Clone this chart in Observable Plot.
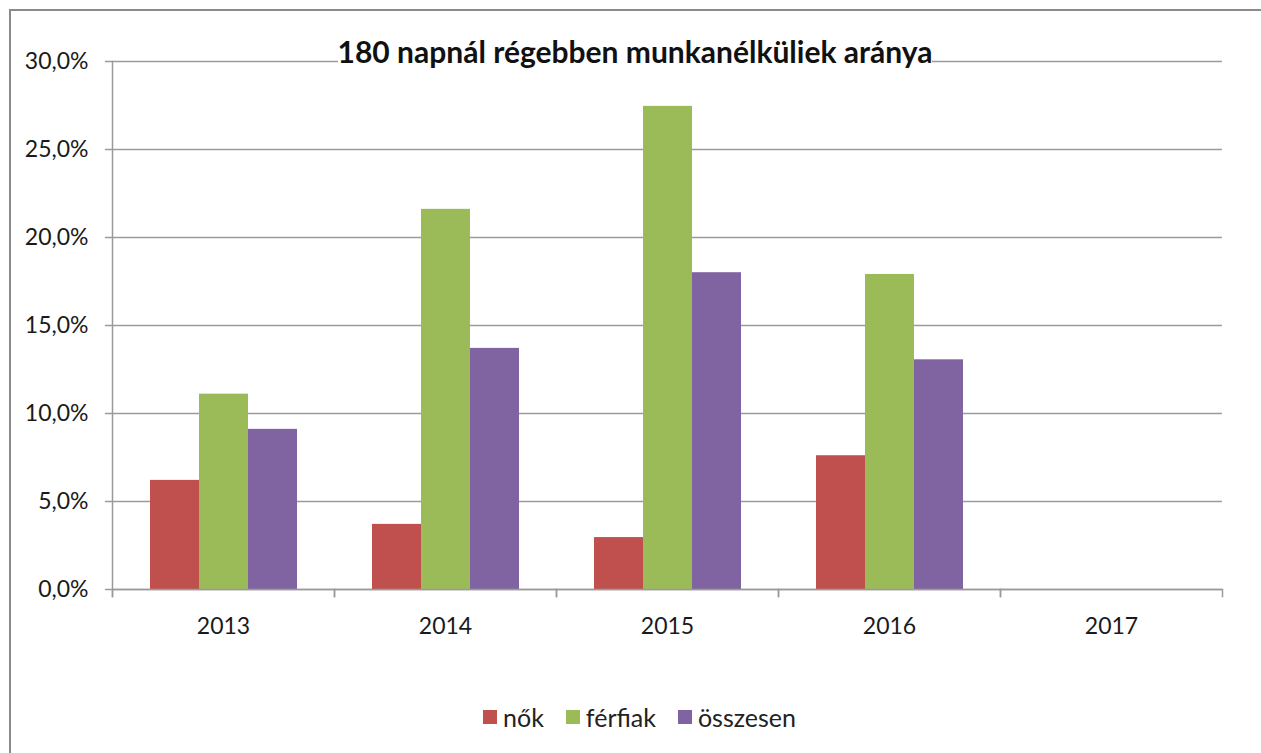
<!DOCTYPE html>
<html>
<head>
<meta charset="utf-8">
<script src="https://cdn.jsdelivr.net/npm/d3@7"></script>
<script src="https://cdn.jsdelivr.net/npm/@observablehq/plot@0.6"></script>
<style>
  html, body { margin: 0; padding: 0; background: #fff; overflow: hidden; width: 1261px; height: 753px; }
  #wrap { position: relative; width: 1261px; height: 753px; font-family: Lato, "Open Sans", sans-serif; }
  #border { position: absolute; left: 9px; top: 9px; width: 1300px; height: 800px; border: 2px solid #8a8a8a; box-sizing: border-box; }
  #chart { position: absolute; left: 0; top: 0; }
  #title { position: absolute; left: 0; width: 1270px; top: 33px; text-align: center; font-weight: bold; font-size: 30px; color: #111; pointer-events: none; }
  #title span { background: #fff; padding: 0; }
  #legend { position: absolute; left: 0; width: 1279px; top: 702px; display: flex; justify-content: center; gap: 22px; font-size: 25px; color: #222; }
  #legend .item { display: flex; align-items: center; gap: 6px; }
  #legend .sw { width: 14px; height: 14px; display: inline-block; }
</style>
</head>
<body>
<div id="wrap">
  <div id="border"></div>
  <div id="chart"></div>
  <div id="title"><span></span></div>
  <div id="legend"></div>
</div>
<script>
const title = "180 napnál régebben munkanélküliek aránya";
const years = ["2013", "2014", "2015", "2016", "2017"];
const series = ["nők", "férfiak", "összesen"];
const nok = [6.2, 3.7, 2.95, 7.6, null];
const ferfiak = [11.1, 21.6, 27.45, 17.9, null];
const osszesen = [9.1, 13.7, 18.0, 13.05, null];
const colors = ["#C0504D", "#9BBB59", "#8064A2"];
const yTicks = [0, 5, 10, 15, 20, 25, 30];

const valuesBySeries = [nok, ferfiak, osszesen];
const rows = [];
years.forEach((year, i) => {
  series.forEach((s, j) => rows.push({year, series: s, value: valuesBySeries[j][i]}));
});

const fmt = d => d.toFixed(1).replace(".", ",") + "%";
const H = 640, MT = 61, MB = 51;
const plotH = H - MT - MB;
const axisColor = "#9a9a9a";

const chart = Plot.plot({
  width: 1261,
  height: H,
  marginLeft: 112,
  marginRight: 39,
  marginTop: MT,
  marginBottom: MB,
  style: {fontFamily: "Lato, 'Open Sans', sans-serif", color: "#1a1a1a", background: "transparent"},
  fx: {domain: years, padding: 0, label: null},
  x: {domain: series, paddingInner: 0, paddingOuter: 0.75, axis: null},
  y: {domain: [0, 30], label: null},
  color: {domain: series, range: colors},
  marks: [
    Plot.gridY(yTicks, {stroke: axisColor, strokeOpacity: 1, strokeWidth: 1.5}),
    Plot.barY(rows, {fx: "year", x: "series", y: "value", fill: "series"}),
    Plot.ruleY([0], {stroke: axisColor, strokeWidth: 1.5}),
    Plot.frame({anchor: "left", facetAnchor: "left", stroke: axisColor, strokeWidth: 1.5, insetBottom: -7}),
    Plot.frame({anchor: "left", stroke: axisColor, strokeWidth: 1.5, insetTop: plotH, insetBottom: -7}),
    Plot.frame({anchor: "right", stroke: axisColor, strokeWidth: 1.5, insetTop: plotH, insetBottom: -7}),
    Plot.axisY(yTicks, {tickSize: 7, tickPadding: 17, tickFormat: fmt, label: null, fontSize: 23, stroke: axisColor, strokeWidth: 1.5, fill: "#1a1a1a"}),
    Plot.axisFx({anchor: "bottom", tickSize: 0, tickPadding: 28, label: null, fontSize: 23, fill: "#1a1a1a"})
  ]
});
document.getElementById("chart").appendChild(chart);
document.querySelector("#title span").textContent = title;

const legend = document.getElementById("legend");
series.forEach((s, j) => {
  const item = document.createElement("div");
  item.className = "item";
  const sw = document.createElement("span");
  sw.className = "sw";
  sw.style.background = colors[j];
  const lab = document.createElement("span");
  lab.textContent = s;
  item.appendChild(sw);
  item.appendChild(lab);
  legend.appendChild(item);
});
</script>
</body>
</html>
